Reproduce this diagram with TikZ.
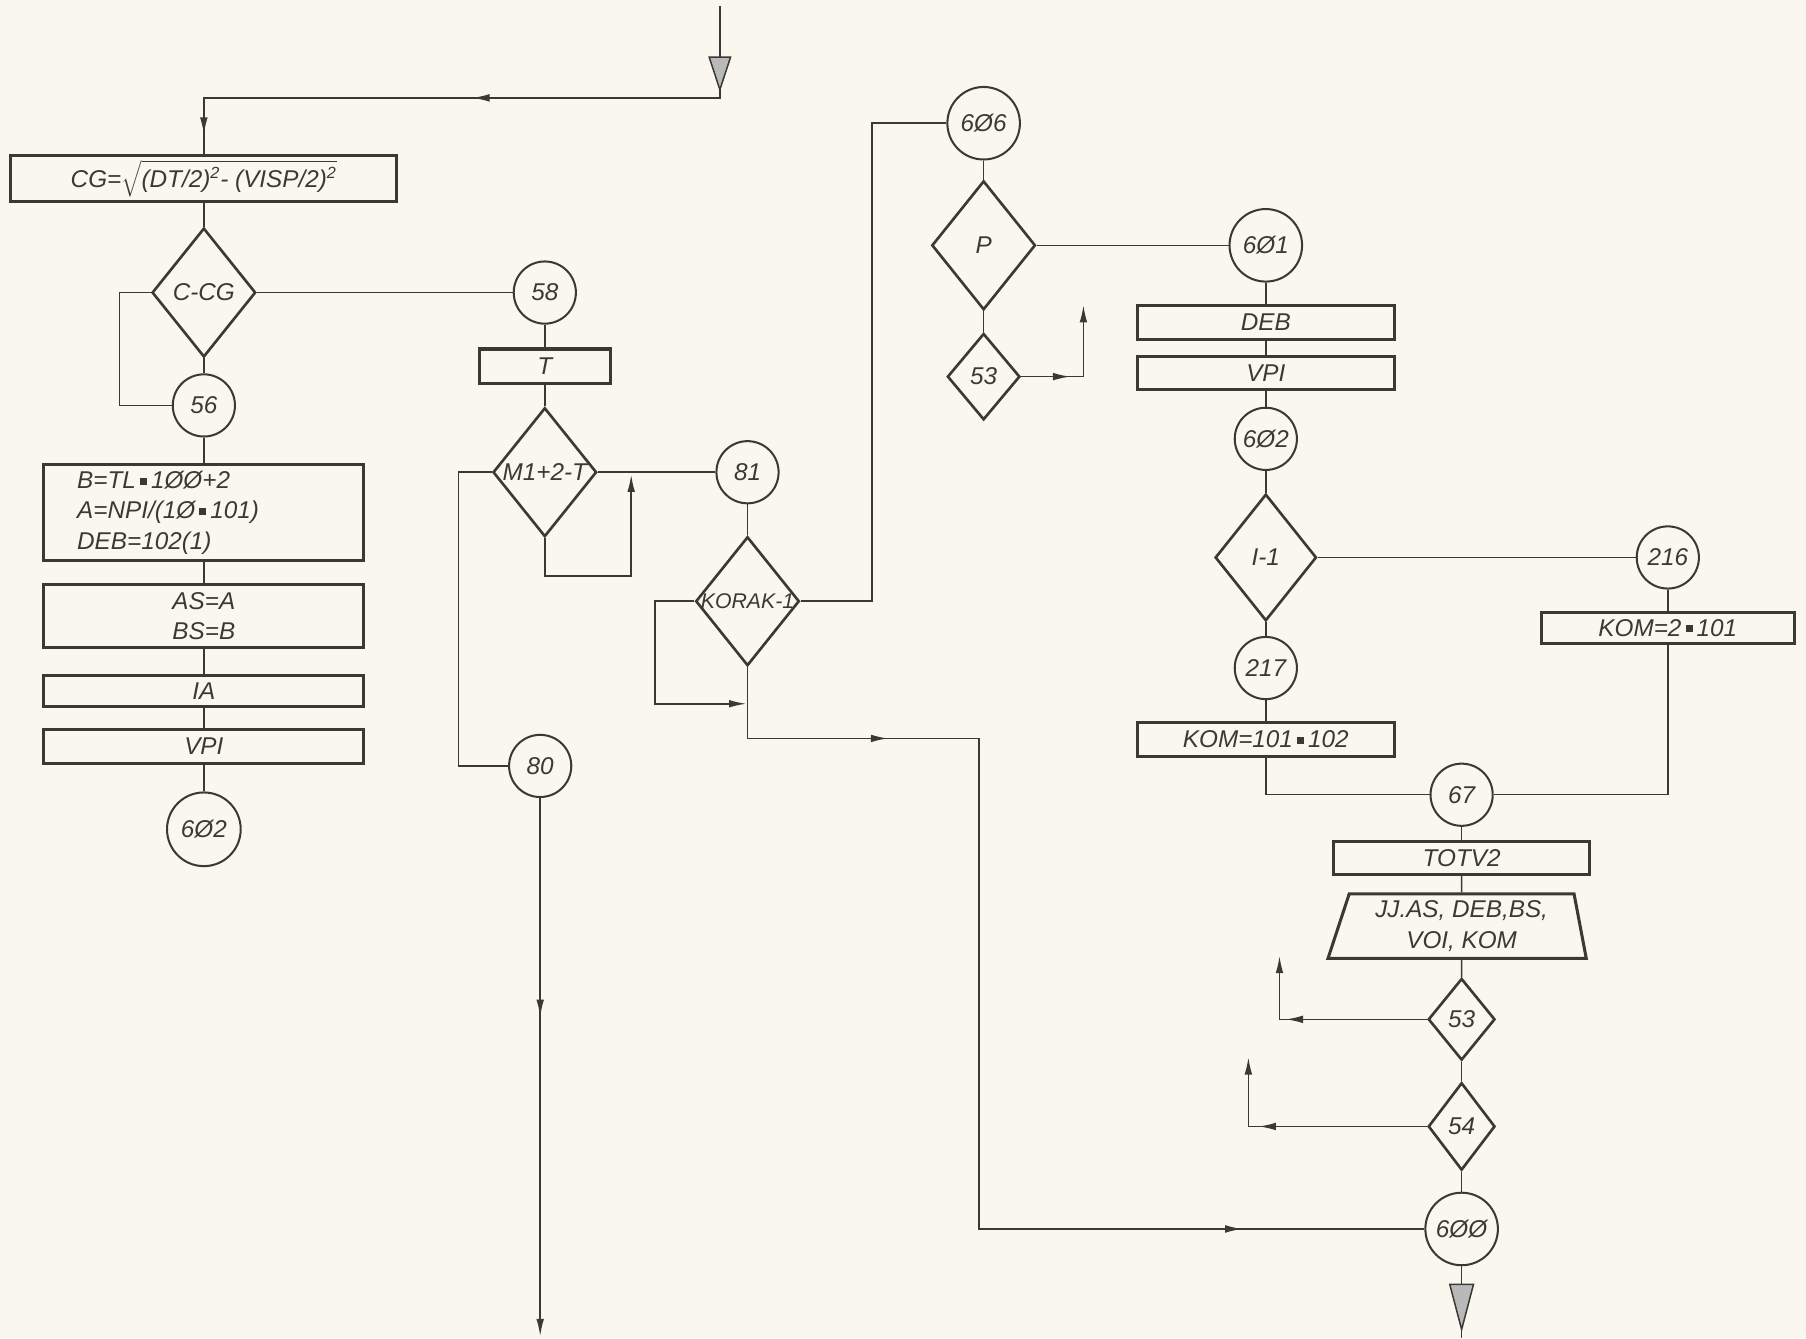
\documentclass[tikz,border=0pt]{standalone}
\usepackage{fontspec}
\setmainfont{Liberation Sans}
\usetikzlibrary{arrows.meta,shapes.geometric,decorations.markings}

\definecolor{ink}{RGB}{58,58,52}
\definecolor{paper}{RGB}{249,247,238}
\newcommand{\mul}{\,\rule[0.28ex]{0.55ex}{0.55ex}\,}
\newcommand{\dtxt}[1]{\makebox[0pt]{#1}}

\begin{document}
\begin{tikzpicture}[x=0.02cm,y=-0.02cm,color=ink,
    every node/.style={font=\fontsize{12}{15}\selectfont\itshape},
    blk/.style={draw,rectangle,line width=1.5pt,inner sep=2pt},
    con/.style={draw,circle,line width=1pt,minimum size=1.08cm,inner sep=0pt},
    bigcon/.style={con,minimum size=1.26cm},
    dec/.style={draw,diamond,line width=1.3pt,inner sep=0pt,
      minimum width=1.8cm,minimum height=2.24cm},
    smalldec/.style={dec,minimum width=1.16cm,minimum height=1.46cm},
    outbox/.style={draw,trapezium,line width=1.5pt,trapezium stretches=true,
      trapezium left angle=73,trapezium right angle=80,align=center,
      minimum width=4.52cm,minimum height=1.12cm,inner sep=1pt},
    flow/.style={line width=0.75pt},
    tip/.style={-{Latex[length=8.5pt,width=3.8pt]}},
    marr/.style={postaction={decorate,decoration={markings,
      mark=at position #1 with {\arrow{Latex[length=8.5pt,width=3.8pt]}}}}},
    bigarr/.style={postaction={decorate,decoration={markings,
      mark=at position #1 with {\arrow{Triangle[length=0.62cm,width=0.4cm,fill=gray!55]}}}}},
    hugearr/.style={postaction={decorate,decoration={markings,
      mark=at position #1 with {\arrow{Triangle[length=0.85cm,width=0.44cm,fill=gray!55]}}}}}]

  \useasboundingbox (0,0) rectangle (1568,1162);
  \fill[paper] (0,0) rectangle (1568,1162);

  % left column
  \coordinate (in) at (625,5);
  \node[blk,minimum width=6.7cm,minimum height=0.74cm] (cg) at (177,155)
    {CG=$\sqrt{\mbox{(DT/2)\textsuperscript{2}- (VISP/2)\textsuperscript{2}}}$};
  \node[dec] (ccg) at (177,254) {\dtxt{C-CG}};
  \node[con] (c56) at (177,352) {56};
  \node[blk,minimum width=5.56cm,minimum height=1.66cm,text width=4.4cm,
    inner xsep=0.56cm,align=left] (bb) at (177,445)
    {B=TL\mul 1ØØ+2\\A=NPI/(1Ø\mul 101)\\DEB=102(1)};
  \node[blk,minimum width=5.56cm,minimum height=1.1cm,align=center] (asb) at (177,535)
    {AS=A\\BS=B};
  \node[blk,minimum width=5.56cm,minimum height=0.54cm] (ia) at (177,600) {IA};
  \node[blk,minimum width=5.56cm,minimum height=0.58cm] (vpi1) at (177,648) {VPI};
  \node[con,minimum size=1.28cm] (c602a) at (177,720) {6Ø2};

  % middle
  \node[con] (c58) at (473,254) {58};
  \node[blk,minimum width=2.28cm,minimum height=0.6cm] (tb) at (473,318) {T};
  \node[dec] (m12) at (473,410) {\dtxt{M1+2-T}};
  \node[con] (c80) at (469,665) {80};
  \coordinate (out80) at (469,1160);
  \node[con] (c81) at (649,410) {81};
  \node[dec] (korak) at (649,522) {\dtxt{\fontsize{10.5}{12}\selectfont KORAK-1}};

  % P column
  \node[bigcon] (c606) at (854,107) {6Ø6};
  \node[dec] (p) at (854,213) {P};
  \node[smalldec,minimum width=1.26cm,minimum height=1.5cm] (d53a) at (854,327) {53};

  % right column
  \node[bigcon] (c601) at (1099,213) {6Ø1};
  \node[blk,minimum width=4.46cm,minimum height=0.58cm] (deb) at (1099,280) {DEB};
  \node[blk,minimum width=4.46cm,minimum height=0.58cm] (vpi2) at (1099,324) {VPI};
  \node[con] (c602b) at (1099,381) {6Ø2};
  \node[dec,minimum width=1.76cm,minimum height=2.2cm] (i1) at (1099,484) {I-1};
  \node[con] (c216) at (1448,484) {216};
  \node[blk,minimum width=4.4cm,minimum height=0.54cm] (kom2) at (1448,545) {KOM=2\mul 101};
  \node[con] (c217) at (1099,580) {217};
  \node[blk,minimum width=4.46cm,minimum height=0.58cm] (kom1) at (1099,642) {KOM=101\mul 102};
  \node[con] (c67) at (1269,690) {67};
  \node[blk,minimum width=4.44cm,minimum height=0.56cm] (totv) at (1269,745) {TOTV2};
  \node[outbox] (jj) at (1269,804) {JJ.AS, DEB,BS,\\VOI, KOM};
  \node[smalldec,minimum height=1.42cm] (d53b) at (1269,885) {53};
  \node[smalldec,minimum height=1.52cm] (d54) at (1269,978) {54};
  \node[bigcon] (c600) at (1269,1067) {6ØØ};
  \coordinate (out600) at (1269,1162);

  \path[flow]
    (cg) edge (ccg)
    (ccg) edge (c58)
    (ccg) edge (c56)
    (c56) edge (bb)
    (bb) edge (asb)
    (asb) edge (ia)
    (ia) edge (vpi1)
    (vpi1) edge (c602a)
    (c58) edge (tb)
    (tb) edge (m12)
    (m12) edge (c81)
    (c81) edge (korak)
    (c606) edge (p)
    (p) edge (c601)
    (p) edge (d53a)
    (c601) edge (deb)
    (deb) edge (vpi2)
    (vpi2) edge (c602b)
    (c602b) edge (i1)
    (i1) edge (c216)
    (i1) edge (c217)
    (c216) edge (kom2)
    (c217) edge (kom1)
    (c67) edge (totv)
    (totv) edge (jj)
    (jj) edge (d53b)
    (d53b) edge (d54)
    (d54) edge (c600);

  \draw[flow,bigarr=1.5cm,marr=5.9cm,marr=11.2cm] (in) -- ++(0,80) -| (cg.north);
  \draw[flow] (ccg.west) -- ++(-27,0) |- (c56.west);
  \draw[flow] (m12.west) -- ++(-29,0) |- (c80.west);
  \draw[flow,tip] (m12.south) -- ++(0,33) -- ++(75,0) -- ++(0,-88);
  \draw[flow,marr=3.8cm,tip] (c80.south) -- (out80);
  \draw[flow,tip] (korak.west) -- ++(-34,0) -- ++(0,89) -- ++(79,0);
  \draw[flow] (korak.east) -- ++(62,0) |- (c606.west);
  \draw[flow,marr=3.68cm,marr=-3.16cm] (korak.south) -- ++(0,62) -- ++(201,0) |- (c600.west);
  \draw[flow,marr=0.85cm,tip] (d53a.east) -- ++(54,0) -- ++(0,-62);
  \draw[flow] (kom2.south) |- (c67.east);
  \draw[flow] (kom1.south) |- (c67.west);
  \draw[flow,marr=2.45cm,tip] (d53b.west) -- ++(-128,0) -- ++(0,-55);
  \draw[flow,marr=2.92cm,tip] (d54.west) -- ++(-155,0) -- ++(0,-60);
  \draw[flow,hugearr=1.15cm] (c600.south) -- (out600);
\end{tikzpicture}
\end{document}
